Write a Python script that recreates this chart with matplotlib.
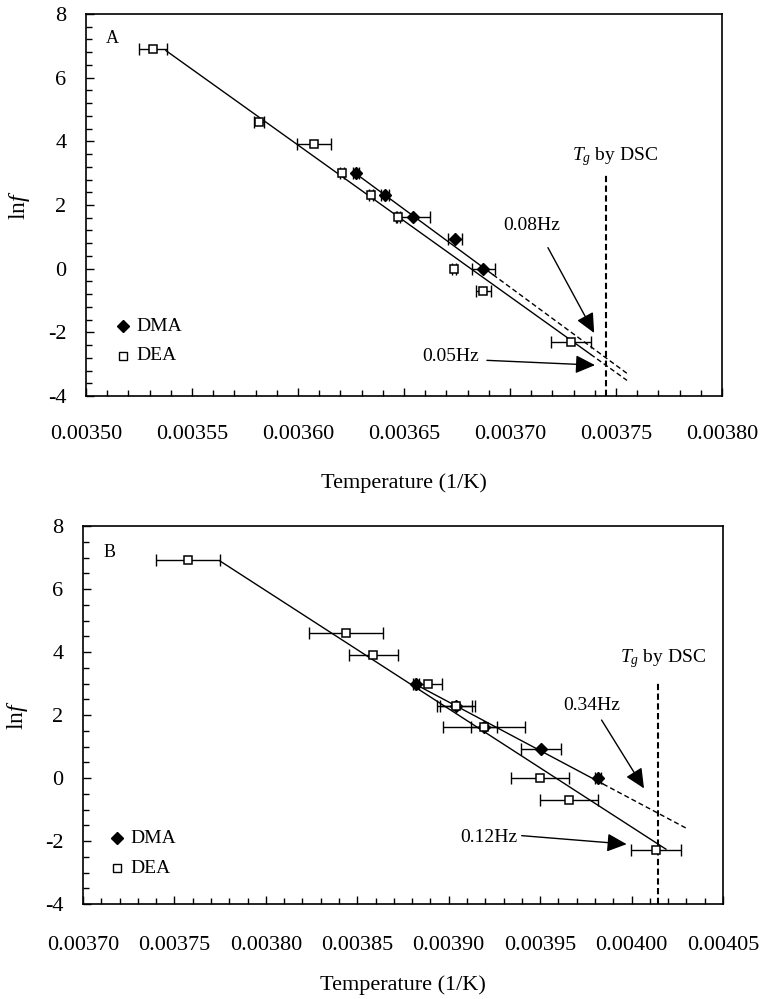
import numpy as np
import matplotlib
matplotlib.use("Agg")
import matplotlib.pyplot as plt
from matplotlib.ticker import MultipleLocator, FormatStrFormatter

plt.rcParams["font.family"] = ["Liberation Serif", "DejaVu Serif"]
plt.rcParams["mathtext.fontset"] = "custom"
plt.rcParams["mathtext.rm"] = "Liberation Serif"
plt.rcParams["mathtext.it"] = "Liberation Serif:italic"
plt.rcParams["lines.scale_dashes"] = False
plt.rcParams["axes.unicode_minus"] = False

# ---------------- Panel A ----------------
a_dma_x = [0.0036274, 0.0036410, 0.0036544, 0.0036741, 0.0036874]
a_dma_y = [3.00, 2.30, 1.61, 0.92, 0.00]
a_dma_xerr = [0.0000014, 0.0000019, 0.0000079, 0.0000034, 0.0000055]

a_dea_x = [0.0035315, 0.0035817, 0.0036077, 0.0036209, 0.0036344,
           0.0036473, 0.0036737, 0.0036874, 0.0037288]
a_dea_y = [6.91, 4.61, 3.91, 3.00, 2.30, 1.61, 0.00, -0.69, -2.30]
a_dea_xerr = [0.0000067, 0.0000024, 0.0000080, 0.0000010, 0.0000010,
              0.0000010, 0.0000010, 0.0000035, 0.0000093]

# fitted lines: [start, end of solid part, end of extrapolation]
a_dma_fit_x = [0.0036276, 0.0036920, 0.0037552]
a_dma_fit_y = [2.97, -0.19, -3.29]
a_dea_fit_x = [0.0035377, 0.0037380, 0.0037552]
a_dea_fit_y = [6.85, -2.69, -3.51]

a_tg = 0.0037453
a_tg_top = 2.93

# ---------------- Panel B ----------------
b_dma_x = [0.0038821, 0.0039040, 0.0039193, 0.0039503, 0.0039815]
b_dma_y = [3.00, 2.30, 1.61, 0.92, 0.00]
b_dma_xerr = [0.0000016, 0.0000086, 0.0000070, 0.0000109, 0.0000016]

b_dea_x = [0.0037573, 0.0038437, 0.0038588, 0.0038888, 0.0039040,
           0.0039193, 0.0039499, 0.0039658, 0.0040134]
b_dea_y = [6.91, 4.61, 3.91, 3.00, 2.30, 1.61, 0.00, -0.69, -2.30]
b_dea_xerr = [0.0000175, 0.0000201, 0.0000136, 0.0000073, 0.0000105,
              0.0000224, 0.0000157, 0.0000157, 0.0000137]

b_dma_fit_x = [0.0038816, 0.0039844, 0.0040301]
b_dma_fit_y = [2.98, -0.19, -1.60]
b_dea_fit_x = [0.0037749, 0.0040188]
b_dea_fit_y = [6.89, -2.26]

b_tg = 0.0040145
b_tg_top = 3.06


def style_axes(ax, xlim, xmajor, ymin_step, label_y, xpad):
    ax.set_xlim(*xlim)
    ax.set_ylim(-4, 8)
    ax.xaxis.set_major_locator(MultipleLocator(xmajor))
    ax.xaxis.set_minor_locator(MultipleLocator(xmajor / 5))
    ax.xaxis.set_major_formatter(FormatStrFormatter("%.5f"))
    ax.yaxis.set_major_locator(MultipleLocator(2))
    ax.yaxis.set_minor_locator(MultipleLocator(ymin_step))
    ax.tick_params(which="both", direction="in", top=False, right=False,
                   width=1, colors="black", labelsize=16)
    ax.tick_params(which="major", length=6)
    ax.tick_params(which="minor", length=4)
    ax.tick_params(axis="x", which="both", pad=xpad)
    ax.tick_params(axis="y", which="both", pad=14)
    for s in ax.spines.values():
        s.set_linewidth(1.2)
        s.set_color("black")
    ax.set_xlabel("Temperature (1/K)", fontsize=16)
    ax.xaxis.label.set_verticalalignment("center")
    ax.xaxis.set_label_coords(0.5, label_y)
    ax.set_ylabel(r"ln$f$", fontsize=17)
    ax.yaxis.label.set_verticalalignment("center")


def draw_points(ax, dma_x, dma_y, dma_err, dea_x, dea_y, dea_err):
    ax.errorbar(dea_x, dea_y, xerr=dea_err, fmt="none", ecolor="black",
                elinewidth=1, capsize=4, capthick=1, zorder=3)
    ax.errorbar(dma_x, dma_y, xerr=dma_err, fmt="none", ecolor="black",
                elinewidth=1, capsize=4, capthick=1, zorder=3)
    ax.plot(dma_x, dma_y, linestyle="none", marker="D", markersize=6,
            markerfacecolor="black", markeredgecolor="black", zorder=4)
    ax.plot(dea_x, dea_y, linestyle="none", marker="s", markersize=6,
            markerfacecolor="white", markeredgecolor="black",
            markeredgewidth=1.1, zorder=5)


def draw_fit(ax, fx, fy):
    ax.plot(fx[:2], fy[:2], color="black", lw=1, zorder=2)
    if len(fx) > 2:
        ax.plot(fx[1:], fy[1:], color="black", lw=1,
                linestyle=(0, (3.6, 2.2)), zorder=2)


def draw_legend(ax, mx, y_dma, y_dea, tx):
    ax.plot([mx], [y_dma], transform=ax.transAxes, marker="D", markersize=6,
            color="black", linestyle="none", clip_on=False)
    ax.plot([mx], [y_dea], transform=ax.transAxes, marker="s", markersize=6,
            markerfacecolor="white", markeredgecolor="black",
            linestyle="none", clip_on=False)
    ax.text(tx, y_dma, "DMA", transform=ax.transAxes, fontsize=14,
            va="center", ha="left")
    ax.text(tx, y_dea, "DEA", transform=ax.transAxes, fontsize=14,
            va="center", ha="left")


def arrow(ax, tail, tip):
    ax.annotate("", xy=tip, xytext=tail,
                arrowprops=dict(arrowstyle="-|>,head_length=0.75,head_width=0.35",
                                color="black", lw=1, shrinkA=0, shrinkB=0,
                                mutation_scale=16))


fig = plt.figure(figsize=(7.63, 9.99), dpi=100)
axA = fig.add_axes([86 / 763, 1 - 396 / 999, 636 / 763, 382 / 999])
axB = fig.add_axes([83 / 763, 1 - 904 / 999, 640 / 763, 378 / 999])

# Panel A
style_axes(axA, (0.00350, 0.00380), 0.00005, 0.4, -0.228, 21)
axA.yaxis.set_label_coords(-0.104, 0.5)
draw_fit(axA, a_dma_fit_x, a_dma_fit_y)
draw_fit(axA, a_dea_fit_x, a_dea_fit_y)
draw_points(axA, a_dma_x, a_dma_y, a_dma_xerr, a_dea_x, a_dea_y, a_dea_xerr)
axA.plot([a_tg, a_tg], [-4, a_tg_top], color="black", lw=1.5,
         linestyle=(0, (4.5, 2.5)), zorder=2)
axA.text(0.0037292, 3.40, r"$T_g$ by DSC", fontsize=14, ha="left", va="baseline")
axA.text(0.0037101, 1.23, "0.08Hz", fontsize=14, ha="center", va="baseline")
axA.text(0.0036722, -2.885, "0.05Hz", fontsize=14, ha="center", va="baseline")
arrow(axA, (0.0037179, 0.66), (0.0037397, -2.02))
arrow(axA, (0.0036891, -2.88), (0.0037401, -3.03))
draw_legend(axA, 0.0582, 0.183, 0.105, 0.0786)
axA.text(0.041, 0.935, "A", transform=axA.transAxes, fontsize=13,
         ha="center", va="center")

# Panel B
style_axes(axB, (0.00370, 0.00405), 0.00005, 0.5, -0.214, 23)
axB.yaxis.set_label_coords(-0.1016, 0.5)
draw_fit(axB, b_dma_fit_x, b_dma_fit_y)
draw_fit(axB, b_dea_fit_x, b_dea_fit_y)
draw_points(axB, b_dma_x, b_dma_y, b_dma_xerr, b_dea_x, b_dea_y, b_dea_xerr)
axB.plot([b_tg, b_tg], [-4, b_tg_top], color="black", lw=1.5,
         linestyle=(0, (4.5, 2.5)), zorder=2)
axB.text(0.0039937, 3.68, r"$T_g$ by DSC", fontsize=14, ha="left", va="baseline")
axB.text(0.0039781, 2.16, "0.34Hz", fontsize=14, ha="center", va="baseline")
axB.text(0.0039217, -2.03, "0.12Hz", fontsize=14, ha="center", va="baseline")
arrow(axB, (0.0039836, 1.84), (0.0040068, -0.33))
arrow(axB, (0.0039399, -1.83), (0.0039973, -2.10))
draw_legend(axB, 0.053, 0.1746, 0.095, 0.0734)
axB.text(0.042, 0.931, "B", transform=axB.transAxes, fontsize=13,
         ha="center", va="center")

fig.savefig("out.png", dpi=100, facecolor="white")
